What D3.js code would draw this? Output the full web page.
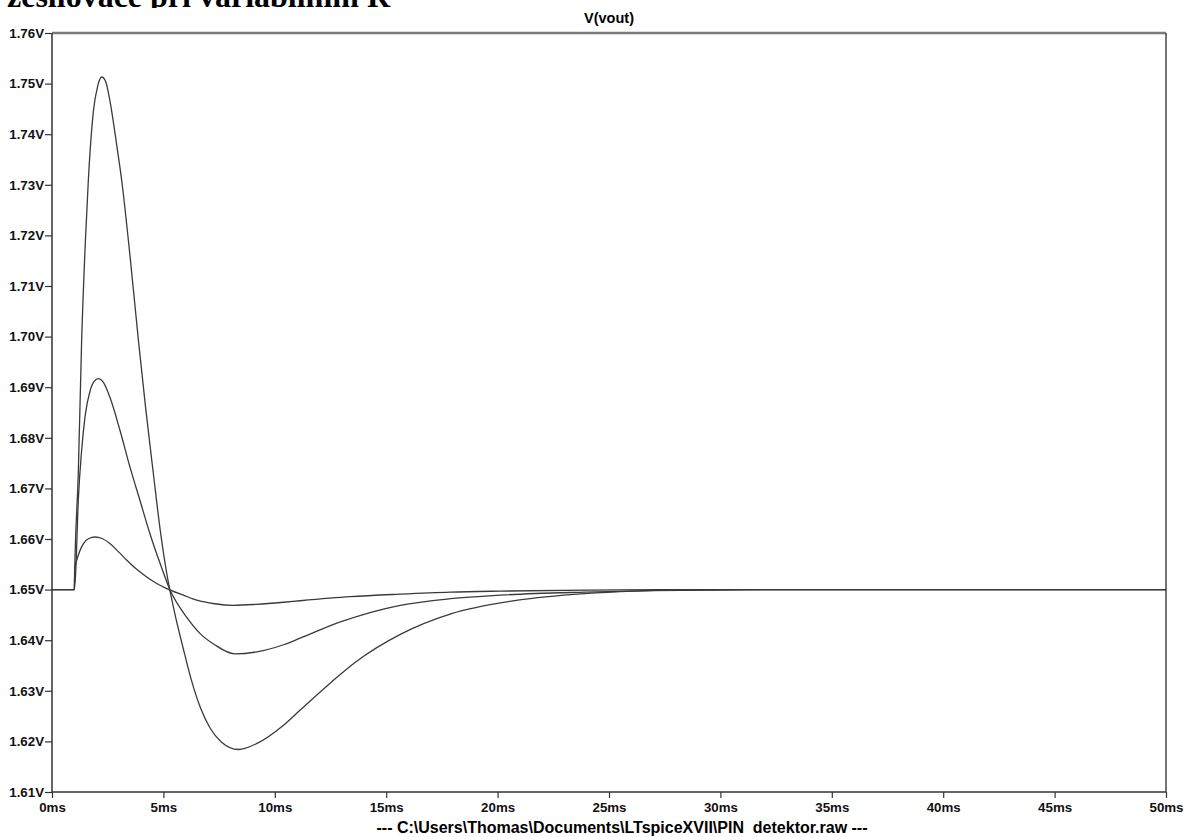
<!DOCTYPE html>
<html>
<head>
<meta charset="utf-8">
<script src="https://cdn.jsdelivr.net/npm/d3@7"></script>
<style>
	body { margin: 0; background: #fff; }
	svg { display: block; }
	text { font-family: Arial, 'Liberation Sans', sans-serif; }
</style>
</head>
<body>
<svg width="1184" height="837"></svg>
<script>
// time in ms, values in V
const tLarge = [0, 1.0, 1.03, 1.18, 1.33, 1.5, 1.63, 1.86, 2.05, 2.23, 2.4, 2.6, 2.9, 3.13, 3.5, 3.88, 4.2, 4.55, 4.85, 5.15, 5.5, 5.9, 6.25, 6.65, 7.1, 7.6, 8.37, 9.2, 10.39, 11.14, 12.56, 13.6, 15.7, 17.9, 20.9, 23.9, 26.1, 28, 32, 50]
const vLarge = [1.65, 1.65, 1.656, 1.6729, 1.6992, 1.719, 1.7308, 1.7446, 1.7495, 1.7513, 1.7505, 1.7466, 1.738, 1.7308, 1.716, 1.6992, 1.686, 1.6729, 1.662, 1.6532, 1.6455, 1.6382, 1.6322, 1.6268, 1.6226, 1.6199, 1.6184, 1.6196, 1.6232, 1.6262, 1.6318, 1.6356, 1.6413, 1.6452, 1.6479, 1.6492, 1.6497, 1.6499, 1.65, 1.65]

const tMid = [0, 1.0, 1.06, 1.18, 1.33, 1.48, 1.71, 1.9, 2.08, 2.3, 2.6, 3.05, 3.5, 3.95, 4.4, 4.85, 5.3, 6.05, 6.65, 7.3, 8.2, 9.2, 10.39, 11.14, 12.94, 15.63, 17.88, 20.1, 23.9, 27, 32, 50]
const vMid = [1.65, 1.65, 1.6531, 1.6676, 1.6775, 1.6841, 1.6893, 1.6912, 1.6917, 1.691, 1.688, 1.6815, 1.6742, 1.6676, 1.661, 1.6552, 1.6499, 1.6445, 1.6413, 1.6391, 1.6373, 1.6377, 1.6391, 1.6404, 1.6436, 1.6469, 1.6482, 1.6489, 1.6495, 1.6498, 1.65, 1.65]

const tSmall = [0, 1.0, 1.02, 1.11, 1.41, 1.65, 1.93, 2.25, 2.6, 3.0, 3.36, 3.8, 4.25, 4.7, 5.15, 5.9, 6.5, 7.3, 8.15, 9.2, 10.39, 11.14, 13.39, 15.63, 17.88, 20.1, 24, 28, 50]
const vSmall = [1.65, 1.65, 1.6542, 1.6558, 1.6591, 1.6601, 1.6604, 1.6601, 1.6591, 1.6574, 1.6558, 1.654, 1.6525, 1.6512, 1.6502, 1.6489, 1.6479, 1.6472, 1.6469, 1.6471, 1.6475, 1.6478, 1.6486, 1.6491, 1.6495, 1.6497, 1.6499, 1.65, 1.65]

const yTicks = d3.range(1.61, 1.7601, 0.01)
const xTicks = d3.range(0, 51, 5)
const docTitle = 'zesilovače při variabilním R'
const traceName = 'V(vout)'
const rawFile = '--- C:\\Users\\Thomas\\Documents\\LTspiceXVII\\PIN  detektor.raw ---'

const W = 1184, H = 837
const m = { top: 33, right: 18, bottom: 45, left: 52 }

const svg = d3.select('svg')

// page text above the plot, the plot image covers its lower half
svg.append('text')
	.attr('x', 7)
	.attr('y', 7)
	.style('font-family', "'Liberation Serif', 'Times New Roman', serif")
	.style('font-weight', 'bold')
	.style('font-size', '32px')
	.text(docTitle)
svg.append('rect')
	.attr('x', 0).attr('y', 8)
	.attr('width', W).attr('height', H - 8)
	.attr('fill', '#fff')

const x = d3.scaleLinear().domain([0, 50]).range([m.left, W - m.right])
const y = d3.scaleLinear().domain([1.61, 1.76]).range([H - m.bottom, m.top])

svg.append('text')
	.attr('x', (m.left + W - m.right) / 2)
	.attr('y', 23)
	.attr('text-anchor', 'middle')
	.style('font-weight', 'bold')
	.style('font-size', '14.5px')
	.text(traceName)

// frame
svg.append('line')
	.attr('x1', m.left).attr('x2', W - m.right)
	.attr('y1', m.top).attr('y2', m.top)
	.attr('stroke', '#7a7a7a').attr('stroke-width', 2.5)
svg.append('line')
	.attr('x1', W - m.right).attr('x2', W - m.right)
	.attr('y1', m.top).attr('y2', H - m.bottom)
	.attr('stroke', '#444').attr('stroke-width', 1.5)

const yAxis = svg.append('g')
	.attr('transform', `translate(${m.left},0)`)
	.call(d3.axisLeft(y).tickValues(yTicks).tickSize(7).tickPadding(1).tickFormat(d => d3.format('.2f')(d) + 'V'))
const xAxis = svg.append('g')
	.attr('transform', `translate(0,${H - m.bottom})`)
	.call(d3.axisBottom(x).tickValues(xTicks).tickSize(6).tickPadding(5).tickFormat(d => d + 'ms'))

;[yAxis, xAxis].forEach(g => {
	g.select('.domain').attr('stroke', '#333').attr('stroke-width', 1.5)
	g.selectAll('.tick line').attr('stroke', '#333').attr('stroke-width', 1.2)
	g.selectAll('.tick text')
		.attr('fill', '#111')
		.style('font-family', 'Arial, "Liberation Sans", sans-serif')
		.style('font-weight', 'bold')
		.style('font-size', '13.3px')
})
xAxis.select('.domain').attr('d', `M${m.left},0H${W - m.right}`)
yAxis.select('.domain').attr('d', `M0,${m.top}V${H - m.bottom}`)

const line = d3.line()
	.x(d => x(d[0]))
	.y(d => y(d[1]))
	.curve(d3.curveMonotoneX)

const traces = [[tLarge, vLarge], [tMid, vMid], [tSmall, vSmall]]
svg.append('g').selectAll('path')
	.data(traces.map(([t, v]) => t.map((d, i) => [d, v[i]])))
	.join('path')
	.attr('d', line)
	.attr('fill', 'none')
	.attr('stroke', '#3a3a3a')
	.attr('stroke-width', 1.3)

svg.append('text')
	.attr('x', 622)
	.attr('y', 833)
	.attr('text-anchor', 'middle')
	.style('font-weight', 'bold')
	.style('font-size', '16px')
	.attr('xml:space', 'preserve')
	.text(rawFile)
</script>
</body>
</html>
